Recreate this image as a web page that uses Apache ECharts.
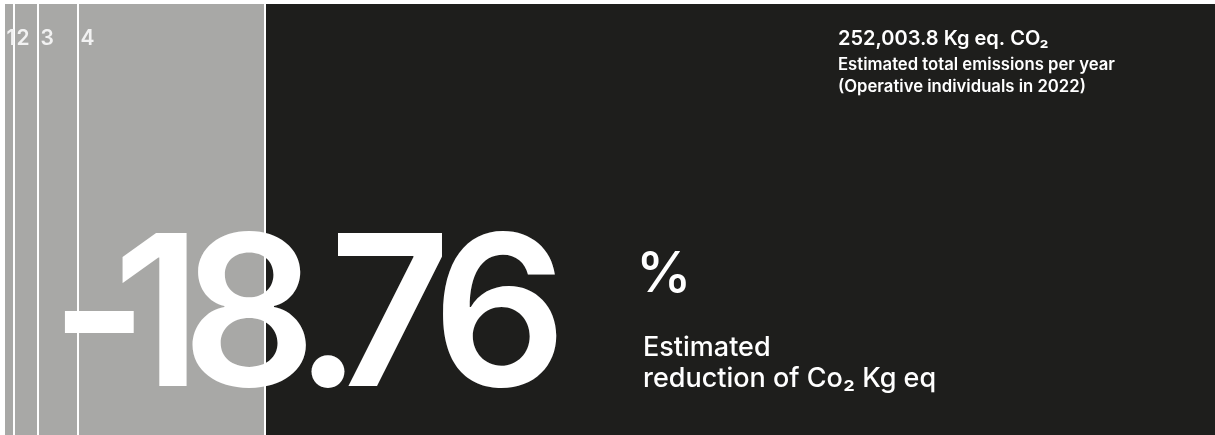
<!DOCTYPE html>
<html>
<head>
<meta charset="utf-8">
<script src="https://cdn.jsdelivr.net/npm/echarts@6/dist/echarts.min.js"></script>
<style>
html,body{margin:0;padding:0;background:#ffffff;overflow:hidden;}
#chart{width:1215px;height:435px;}
</style>
</head>
<body>
<div id="chart"></div>
<script>
// ---- data ----
const segmentLabels = ['1', '2', '3', '4', ''];
const segmentValues = [10, 24, 40, 187, 949];
const headlineValue = '-18.76';
const headlineUnit = '%';
const headlineCaption = ['Estimated', 'reduction of Co\u2082 Kg eq'];
const totalLines = ['252,003.8 Kg eq. CO\u2082', 'Estimated total emissions per year', '(Operative individuals in 2022)'];

// ---- styles / layout ----
const GRAY = '#a8a8a6';
const DARK = '#1e1e1c';
const segmentColors = [GRAY, GRAY, GRAY, GRAY, DARK];
const GAP = 2;
const LABEL_DX = 1.5, LABEL_DY = 24.5;
const headlineFont = '600 210px Inter, Roboto, sans-serif';
const headlineInkCenters = [99.4, 154.5, 249, 328, 390, 499.5];

const total = segmentValues.reduce((a, b) => a + b, 0);
const starts = [];
let acc = 0;
segmentValues.forEach(v => { starts.push(acc); acc += v; });
const seriesData = segmentValues.map((v, i) => [starts[i], starts[i] + v, i]);

const chart = echarts.init(document.getElementById('chart'), null, {renderer: 'canvas'});

// measure glyph ink so each headline character is centred on its ink
const mctx = document.createElement('canvas').getContext('2d');
mctx.font = headlineFont;

const graphics = [];
headlineValue.split('').forEach((ch, i) => {
  const m = mctx.measureText(ch);
  const x = headlineInkCenters[i] - (m.actualBoundingBoxRight - m.actualBoundingBoxLeft) / 2;
  graphics.push({
    type: 'text', z: 100, x: x, y: 323,
    style: {text: ch, fill: '#ffffff', font: headlineFont, align: 'left', verticalAlign: 'middle'}
  });
});
graphics.push({
  type: 'text', z: 100, x: 636, y: 275.5,
  style: {text: headlineUnit, fill: '#ffffff', font: '500 56px Inter, sans-serif', align: 'left', verticalAlign: 'middle'}
});
graphics.push({
  type: 'text', z: 100, x: 643, y: 348,
  style: {text: headlineCaption[0], fill: '#ffffff', font: '500 27px Inter, sans-serif', align: 'left', verticalAlign: 'middle'}
});
graphics.push({
  type: 'text', z: 100, x: 643, y: 378.8,
  style: {text: headlineCaption[1], fill: '#ffffff', font: '500 27px Inter, sans-serif', align: 'left', verticalAlign: 'middle'}
});
const totalFonts = ['600 20px Inter, sans-serif', '600 16.7px Inter, sans-serif', '600 16.7px Inter, sans-serif'];
const totalYs = [39, 65.4, 87];
totalLines.forEach((t, i) => {
  graphics.push({
    type: 'text', z: 100, x: 838, y: totalYs[i],
    style: {text: t, fill: '#ffffff', font: totalFonts[i], align: 'left', verticalAlign: 'middle'}
  });
});

chart.setOption({
  animation: false,
  backgroundColor: '#ffffff',
  grid: {left: 5, right: 0, top: 4, bottom: 0, containLabel: false},
  xAxis: {type: 'value', min: 0, max: total, show: false},
  yAxis: {type: 'value', min: 0, max: 1, show: false},
  series: [{
    type: 'custom',
    silent: true,
    data: seriesData,
    encode: {x: [0, 1]},
    renderItem: function (params, api) {
      const i = api.value(2);
      const p0 = api.coord([api.value(0), 1]);
      const p1 = api.coord([api.value(1), 0]);
      const gap = i === segmentValues.length - 1 ? 0 : GAP;
      const x = p0[0], y = p0[1];
      const w = p1[0] - p0[0] - gap, h = p1[1] - p0[1];
      const children = [{
        type: 'rect', shape: {x: x, y: y, width: w, height: h},
        style: {fill: segmentColors[i]}
      }];
      if (segmentLabels[i]) {
        children.push({
          type: 'text', x: x + LABEL_DX, y: y + LABEL_DY,
          style: {text: segmentLabels[i], fill: '#f2f2f2', font: '600 21px Inter, sans-serif', align: 'left', verticalAlign: 'top'}
        });
      }
      return {type: 'group', children: children};
    }
  }],
  graphic: graphics
});
</script>
</body>
</html>
